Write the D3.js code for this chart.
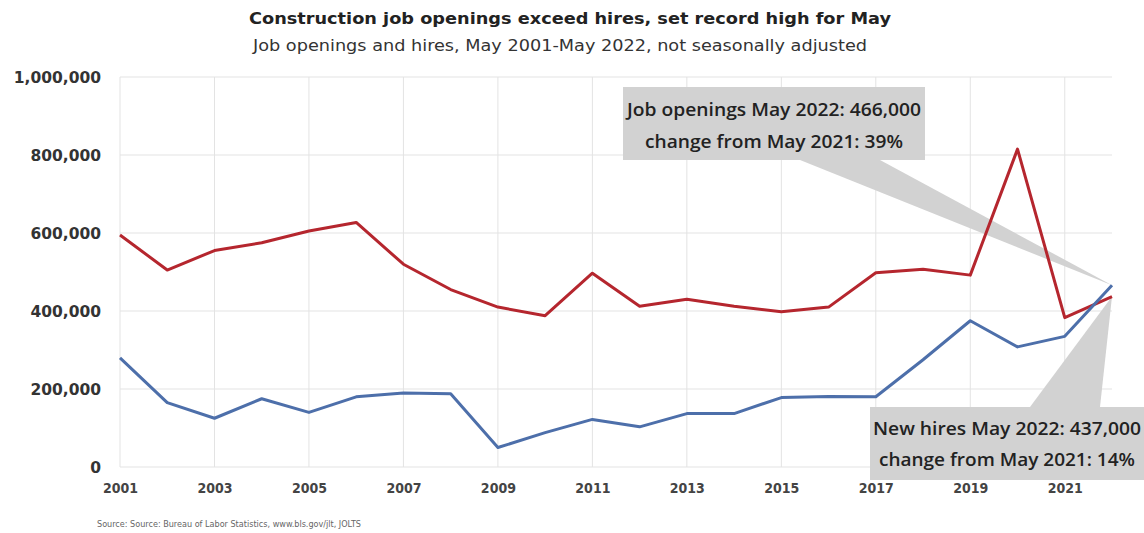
<!DOCTYPE html>
<html>
<head>
<meta charset="utf-8">
<script src="https://d3js.org/d3.v7.min.js"></script>
<style>
  body { margin: 0; background: #fff; }
  svg { display: block; }
</style>
</head>
<body>
<div id="chart"></div>
<script>
// data, May of each year
const years = d3.range(2001, 2023)
const openings = [280000, 165000, 125000, 175000, 140000, 180000, 190000, 188000, 50000, 88000, 122000,
  103000, 137000, 137000, 178000, 181000, 180000, 275000, 375000, 308000, 335000, 466000]
const hires = [595000, 505000, 555000, 575000, 605000, 627000, 520000, 455000, 410000, 388000, 497000,
  412000, 430000, 412000, 398000, 410000, 498000, 507000, 492000, 815000, 383000, 437000]
const yTicks = [0, 200000, 400000, 600000, 800000, 1000000]
const xTicks = [2001, 2003, 2005, 2007, 2009, 2011, 2013, 2015, 2017, 2019, 2021]

const W = 1144, H = 533
const svg = d3.select("#chart").append("svg").attr("width", W).attr("height", H)

const x = d3.scaleLinear().domain([2001, 2022]).range([120, 1112])
const y = d3.scaleLinear().domain([0, 1000000]).range([467, 77])

// titles
svg.append("text").attr("x", 570).attr("y", 24).attr("text-anchor", "middle")
  .attr("textLength", 642).attr("lengthAdjust", "spacingAndGlyphs")
  .style("font", "bold 16px 'DejaVu Sans'").style("fill", "#222")
  .text("Construction job openings exceed hires, set record high for May")
svg.append("text").attr("x", 560).attr("y", 51).attr("text-anchor", "middle")
  .attr("textLength", 614).attr("lengthAdjust", "spacingAndGlyphs")
  .style("font", "16px 'DejaVu Sans Condensed'").style("fill", "#333")
  .text("Job openings and hires, May 2001-May 2022, not seasonally adjusted")

// grid
svg.append("g").selectAll("line").data(yTicks).join("line")
  .attr("x1", x(2001)).attr("x2", x(2022))
  .attr("y1", d => y(d)).attr("y2", d => y(d))
  .attr("stroke", "#e3e3e3").attr("stroke-width", 1)
svg.append("g").selectAll("line").data(xTicks).join("line")
  .attr("x1", d => x(d)).attr("x2", d => x(d))
  .attr("y1", y(0)).attr("y2", y(1000000))
  .attr("stroke", "#e3e3e3").attr("stroke-width", 1)

// axes
const yAxis = svg.append("g").attr("transform", "translate(101,0)")
  .call(d3.axisLeft(y).tickValues(yTicks).tickFormat(d3.format(",")).tickSize(0).tickPadding(0))
yAxis.select(".domain").remove()
yAxis.selectAll("text").style("font", "bold 15.5px 'DejaVu Sans'").style("fill", "#333").attr("dy", "0.35em")

const xAxis = svg.append("g").attr("transform", "translate(0,483)")
  .call(d3.axisBottom(x).tickValues(xTicks).tickFormat(d3.format("d")).tickSize(0).tickPadding(0))
xAxis.select(".domain").remove()
xAxis.selectAll("text").style("font", "bold 14px 'DejaVu Sans Condensed'").style("fill", "#444")

// callout wedges (behind lines)
const calloutFill = "#d2d2d2"
const px = x(2022)
svg.append("path")
  .attr("d", `M800,160 L880,160 L${px},${y(466000)} Z`)
  .attr("fill", calloutFill)
svg.append("path")
  .attr("d", `M1030,407 L1100,407 L${px},${y(437000)} Z`)
  .attr("fill", calloutFill)

// lines
const line = d3.line().x((d, i) => x(years[i])).y(d => y(d))
svg.append("path").datum(hires).attr("d", line)
  .attr("fill", "none").attr("stroke", "#b5262e").attr("stroke-width", 3).attr("stroke-linejoin", "round")
svg.append("path").datum(openings).attr("d", line)
  .attr("fill", "none").attr("stroke", "#4d6faa").attr("stroke-width", 3).attr("stroke-linejoin", "round")

// callout boxes
function callout(x0, y0, w, h, lines, ys, lens) {
  svg.append("rect").attr("x", x0).attr("y", y0).attr("width", w).attr("height", h).attr("fill", calloutFill)
  lines.forEach((t, i) => {
    svg.append("text").attr("x", x0 + w / 2).attr("y", ys[i]).attr("text-anchor", "middle")
      .attr("textLength", lens[i]).attr("lengthAdjust", "spacingAndGlyphs")
      .style("font", "600 18px 'Open Sans'").style("fill", "#222")
      .text(t)
  })
}
callout(623, 87, 302, 73, ["Job openings May 2022: 466,000", "change from May 2021: 39%"], [116, 148], [294, 258])
callout(870, 407, 274, 73, ["New hires May 2022: 437,000", "change from May 2021: 14%"], [435, 466], [268, 256])

// source
svg.append("text").attr("x", 97).attr("y", 527)
  .style("font", "9px 'DejaVu Sans Condensed'").style("fill", "#666")
  .text("Source: Source: Bureau of Labor Statistics, www.bls.gov/jlt, JOLTS")
</script>
</body>
</html>
